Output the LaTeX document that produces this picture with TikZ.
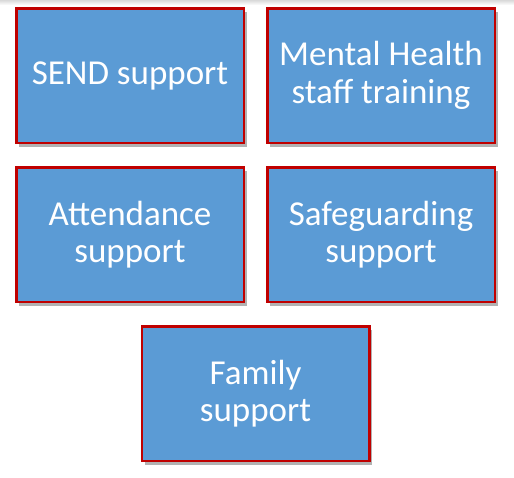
\documentclass[tikz,border=0pt]{standalone}
\usepackage{fontspec}
\setmainfont{Carlito}
\usepackage{xcolor}
\usetikzlibrary{positioning,calc,shadows}
\definecolor{boxblue}{HTML}{5B9BD5}
\definecolor{boxred}{HTML}{C00000}
\tikzset{
    support-box/.style = {draw=boxred, fill=boxblue, line width=2.5pt, rectangle, text=white,
        minimum width=227.5pt, minimum height=134.5pt, inner sep=0pt, align=center,
        font=\fontsize{35}{37.5}\selectfont,
        drop shadow={shadow xshift=3pt, shadow yshift=-4pt, fill=black, opacity=0.3}},
}

\begin{document}
\begin{tikzpicture}[x=1pt, y=-1pt]
\useasboundingbox (0,0) rectangle (514,477);
\shade[top color=gray!30, bottom color=white] (0,0) rectangle (514,5);
\node [support-box] (send) at (130,75.5) {SEND support};
\node [support-box, right=21pt of send] (mental) {Mental Health\\staff training};
\node [support-box, below=22pt of send] (attendance) {Attendance\\support};
\node [support-box, below=22pt of mental] (safeguarding) {Safeguarding\\support};
\node [support-box, below=22pt] (family) at ($(attendance.south)!0.5!(safeguarding.south)$) {Family\\support};
\end{tikzpicture}
\end{document}
